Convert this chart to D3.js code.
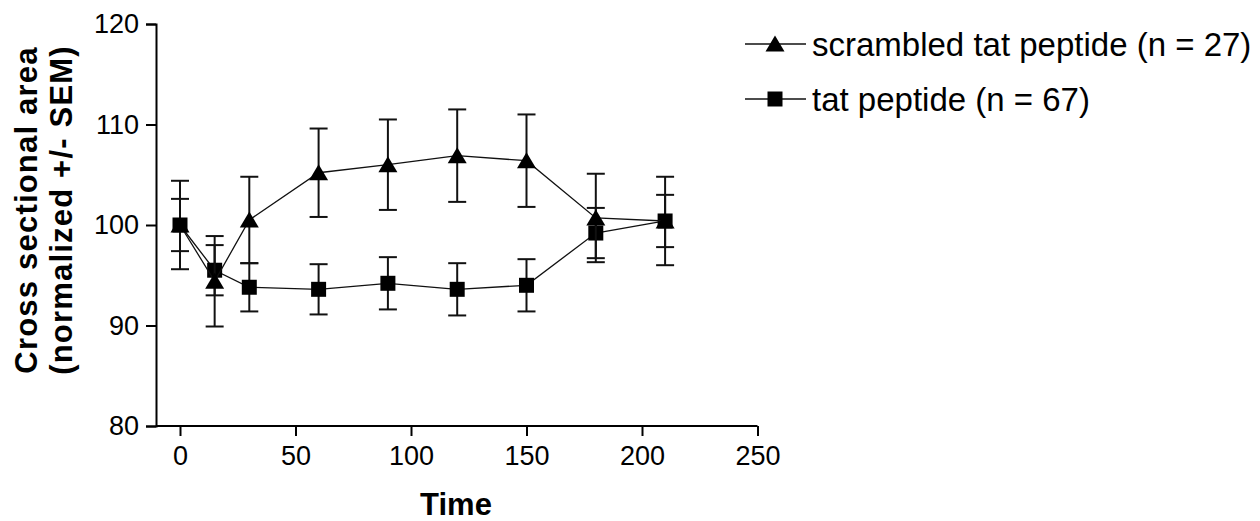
<!DOCTYPE html>
<html>
<head>
<meta charset="utf-8">
<script src="https://cdn.jsdelivr.net/npm/d3@7"></script>
<style>
  body { margin: 0; background: #fff; }
  svg text { font-family: "Liberation Sans", Arial, sans-serif; fill: #000; }
</style>
</head>
<body>
<svg id="chart" width="1260" height="521"></svg>
<script>
// time points (x) and the two series
var times = [0, 15, 30, 60, 90, 120, 150, 180, 210];
var scrambledMean = [100, 94.4, 100.5, 105.2, 106.0, 106.9, 106.4, 100.7, 100.4];
var scrambledSem  = [4.4, 4.5, 4.3, 4.4, 4.5, 4.6, 4.6, 4.4, 4.4];
var tatMean = [100, 95.5, 93.8, 93.6, 94.2, 93.6, 94.0, 99.2, 100.4];
var tatSem  = [2.6, 2.5, 2.4, 2.5, 2.6, 2.6, 2.6, 2.5, 2.6];
var xTicks = [0, 50, 100, 150, 200, 250];
var yTicks = [80, 90, 100, 110, 120];
var seriesNames = ["scrambled tat peptide (n = 27)", "tat peptide (n = 67)"];

var svg = d3.select("#chart");

var x = d3.scaleLinear().domain([0, 250]).range([180, 757.5]);
var y = d3.scaleLinear().domain([80, 120]).range([426, 24]);
var axisX0 = 156; // where the y axis sits

// y axis
var gy = svg.append("g").attr("transform", "translate(" + axisX0 + ",0)")
  .call(d3.axisLeft(y).tickValues(yTicks).tickSizeOuter(0).tickSize(10).tickPadding(7));
gy.select(".domain").attr("stroke", "#000").attr("stroke-width", 2);
gy.selectAll(".tick line").attr("stroke", "#000").attr("stroke-width", 2);
gy.selectAll(".tick text").attr("font-size", 27).attr("font-family", "Liberation Sans, Arial, sans-serif")
  .attr("fill", "#222");

// x axis
var gx = svg.append("g").attr("transform", "translate(0," + y(80) + ")")
  .call(d3.axisBottom(x).tickValues(xTicks).tickSizeOuter(0).tickSize(10).tickPadding(10));
gx.select(".domain").remove();
gx.append("line").attr("x1", axisX0).attr("x2", x(250)).attr("y1", 0).attr("y2", 0)
  .attr("stroke", "#000").attr("stroke-width", 2);
gx.selectAll(".tick line").attr("stroke", "#000").attr("stroke-width", 2);
gx.selectAll(".tick text").attr("font-size", 27).attr("font-family", "Liberation Sans, Arial, sans-serif")
  .attr("fill", "#222");

// axis titles
svg.append("text").attr("x", 456).attr("y", 515).attr("text-anchor", "middle")
  .attr("font-size", 31).attr("font-weight", "bold").text("Time");

var yt = svg.append("text").attr("transform", "translate(37,210) rotate(-90)")
  .attr("text-anchor", "middle").attr("font-size", 31).attr("font-weight", "bold")
  .attr("letter-spacing", 1.2);
yt.append("tspan").attr("x", 0).attr("y", 0).text("Cross sectional area");
yt.append("tspan").attr("x", 0).attr("y", 35).text("(normalized +/- SEM)");

function triPath(cx, cy) {
  return "M" + (cx - 9.5) + "," + (cy + 7.5) + "L" + cx + "," + (cy - 8.5) + "L" + (cx + 9.5) + "," + (cy + 7.5) + "Z";
}
function sqPath(cx, cy) {
  return "M" + (cx - 7.5) + "," + (cy - 7.5) + "h15v15h-15Z";
}

function drawSeries(means, sems, shape) {
  var pts = times.map(function(t, i) { return {t: t, m: means[i], s: sems[i]}; });
  var g = svg.append("g");
  g.append("path").datum(pts)
    .attr("d", d3.line().x(function(d) { return x(d.t); }).y(function(d) { return y(d.m); }))
    .attr("fill", "none").attr("stroke", "#111").attr("stroke-width", 1.3);
  var eb = g.selectAll(".eb").data(pts).enter().append("g");
  eb.append("line")
    .attr("x1", function(d) { return x(d.t); }).attr("x2", function(d) { return x(d.t); })
    .attr("y1", function(d) { return y(d.m + d.s); }).attr("y2", function(d) { return y(d.m - d.s); })
    .attr("stroke", "#111").attr("stroke-width", 2);
  [1, -1].forEach(function(sign) {
    eb.append("line")
      .attr("x1", function(d) { return x(d.t) - 9; }).attr("x2", function(d) { return x(d.t) + 9; })
      .attr("y1", function(d) { return y(d.m + sign * d.s); }).attr("y2", function(d) { return y(d.m + sign * d.s); })
      .attr("stroke", "#111").attr("stroke-width", 2);
  });
  g.selectAll(".mk").data(pts).enter().append("path")
    .attr("d", function(d) { return shape(x(d.t), y(d.m)); })
    .attr("fill", "#000");
}

drawSeries(tatMean, tatSem, sqPath);
drawSeries(scrambledMean, scrambledSem, triPath);

// legend
var legendRows = [{name: seriesNames[0], shape: triPath, cy: 44}, {name: seriesNames[1], shape: sqPath, cy: 99}];
var lg = svg.append("g");
legendRows.forEach(function(r) {
  lg.append("line").attr("x1", 745).attr("x2", 806).attr("y1", r.cy).attr("y2", r.cy)
    .attr("stroke", "#111").attr("stroke-width", 1.3);
  lg.append("path").attr("d", r.shape(775, r.cy)).attr("fill", "#000");
  lg.append("text").attr("x", 812).attr("y", r.cy + 12).attr("font-size", 33)
    .attr("fill", "#222").text(r.name);
});
</script>
</body>
</html>
